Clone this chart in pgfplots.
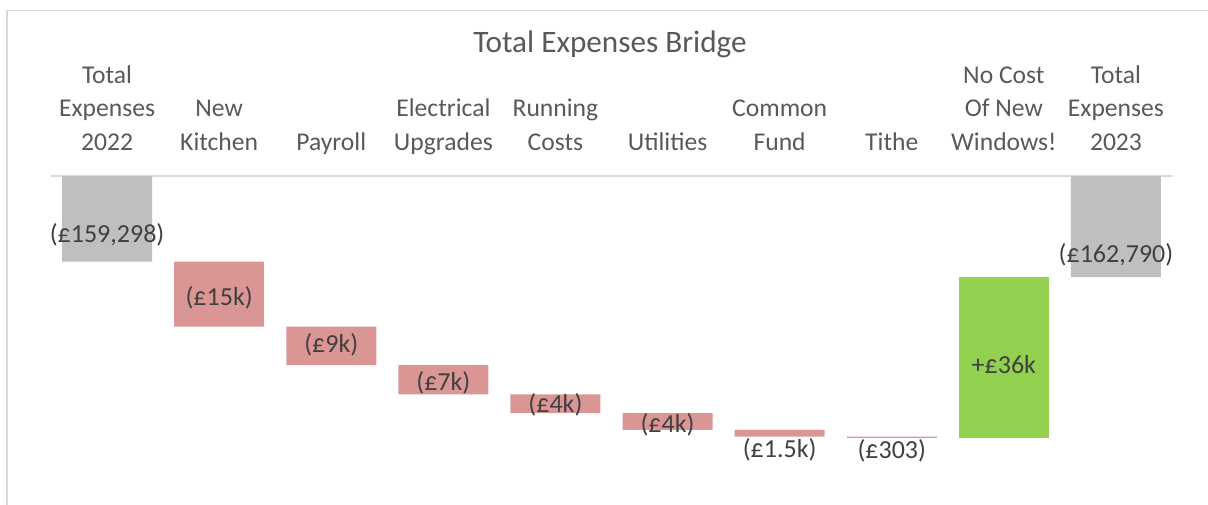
\documentclass[border=0pt]{standalone}
\usepackage{fontspec}
\setmainfont{Carlito}
\usepackage{pgfplots}
\pgfplotsset{compat=1.18}
\usepackage{pgfplotstable}
\definecolor{totgray}{HTML}{BFBFBF}
\definecolor{decred}{HTML}{D99694}
\definecolor{incgreen}{HTML}{92D050}
\definecolor{txtgray}{HTML}{595959}
\definecolor{lblgray}{HTML}{404040}
\definecolor{framegray}{HTML}{D9D9D9}

% waterfall: invisible base, then visible segment
\pgfplotstableread{
x base total decrease increase
0 0 -159298 0 0
1 -159298 0 -14600 0
2 -173898 0 -8700 0
3 -182598 0 -6600 0
4 -189198 0 -4200 0
5 -193398 0 -3800 0
6 -197198 0 -1500 0
7 -198698 0 -303 0
8 -162790 0 0 -36211
9 0 -162790 0 0
}\bars

\pgfplotstableread{
x y label
0 -153176 (£159,298)
1 -167365 (£15k)
2 -177950 (£9k)
3 -186622 (£7k)
4 -191577 (£4k)
5 -195968 (£4k)
6 -201599 (£1.5k)
7 -201937 (£303)
8 -182568 +£36k
9 -157793 (£162,790)
}\labels

\begin{document}
\begin{tikzpicture}
\useasboundingbox (0,0) rectangle (604pt,-252pt);
\draw[framegray, line width=0.8pt] (3.4pt,-5.25pt) rectangle (700pt,-400pt);
\node[anchor=base, font=\fontsize{15.6}{18}\selectfont, text=txtgray] at (305pt,-26.15pt) {Total Expenses Bridge};
\begin{axis}[
  at={(25.5pt,-88pt)}, anchor=north west,
  scale only axis, width=560.5pt, height=146.52pt,
  xmin=-0.5, xmax=9.5, ymin=-206000, ymax=-140000,
  ybar stacked, bar width=45pt,
  axis x line*=top, axis y line=none,
  x axis line style={draw=framegray, line width=0.6pt, -},
  xtick={0,1,2,3,4,5,6,7,8,9},
  xticklabels={{Total\\Expenses\\2022},{New\\Kitchen},{Payroll},{Electrical\\Upgrades},{Running\\Costs},{Utilities},{Common\\Fund},{Tithe},{No Cost\\Of New\\Windows!},{Total\\Expenses\\2023}},
  major tick length=0pt,
  xtick style={draw=none},
  xticklabel style={align=center, anchor=south, inner sep=0pt, text depth=0pt, yshift=12.65pt, font=\fontsize{12.8}{16.7}\selectfont, text=txtgray},
  ytick=\empty,
]
\addplot[draw=none, fill=none, forget plot] table[x=x, y=base] {\bars};
\addplot[draw=none, fill=totgray] table[x=x, y=total] {\bars};
\addplot[draw=none, fill=decred] table[x=x, y=decrease] {\bars};
\addplot[draw=none, fill=incgreen] table[x=x, y=increase] {\bars};
\end{axis}
\begin{axis}[
  at={(25.5pt,-88pt)}, anchor=north west,
  scale only axis, width=560.5pt, height=146.52pt,
  xmin=-0.5, xmax=9.5, ymin=-206000, ymax=-140000,
  hide axis, clip=false,
]
\addplot[only marks, mark=*, mark size=0pt, mark options={draw=none, fill=none},
  nodes near coords, point meta=explicit symbolic,
  every node near coord/.append style={anchor=center, inner sep=0pt, font=\fontsize{13}{15.6}\selectfont, text=lblgray}]
  table[x=x, y=y, meta=label] {\labels};
\end{axis}
\end{tikzpicture}
\end{document}
